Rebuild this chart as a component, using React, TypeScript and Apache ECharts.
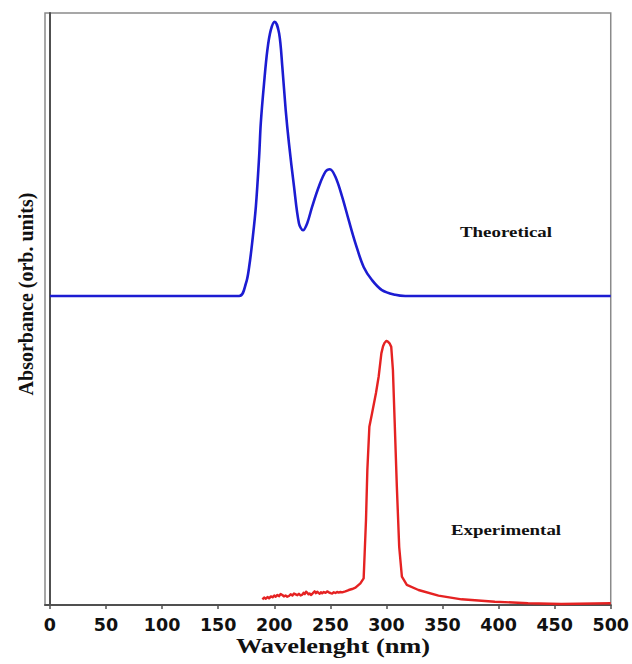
import React, { useEffect, useRef } from "react";
import * as echarts from "echarts";

// Theoretical spectrum (blue): wavelength (nm) / absorbance (arb. units, offset)
const theoWl = [0, 100, 168.7, 174.7, 177.6, 180.6, 183.6, 186.5, 188, 190.9, 193.9, 196.9, 200.4, 204.3, 207.2, 210.2, 213.1, 217.6, 222, 225.6, 229.4, 233.8, 239.8, 245.7, 249.6, 254.6, 260.5, 266.4, 272.4, 279.7, 287.1, 296, 307.9, 316.8, 400, 500];
const theoAbs = [52.2, 52.2, 52.2, 54.3, 57.1, 61.7, 67.3, 75.7, 81.4, 88.1, 93.8, 97.1, 98.5, 96.6, 90.9, 83.6, 78.0, 70.7, 64.5, 63.3, 64.5, 67.3, 70.7, 73.2, 73.6, 72.3, 69.0, 65.0, 61.1, 57.1, 54.9, 53.2, 52.4, 52.2, 52.2, 52.2];

// Experimental spectrum (red)
const expWl = [189.4, 191.0, 192.5, 194.0, 195.4, 197.0, 198.5, 200.0, 201.3, 202.8, 204.2, 205.7, 207.2, 208.6, 210.1, 211.6, 213.1, 214.6, 216.2, 217.6, 219.1, 220.6, 222.0, 223.5, 225, 226.1, 227.2, 228.3, 229.4, 230.5, 231.6, 232.7, 233.8, 234.9, 236.0, 237.2, 238.3, 239.4, 240.5, 241.6, 242.7, 244.2, 245.7, 247.2, 248.7, 250.2, 251.6, 253.1, 254.6, 256.0, 257.5, 259.0, 260.5, 263.4, 266.4, 269.4, 272.4, 276.8, 279.7, 280.6, 281.8, 283, 284.8, 287.2, 290.7, 293.1, 295.5, 297.0, 298.4, 300.0, 301.3, 302.8, 304.3, 305.8, 307.3, 309.3, 311.4, 313.8, 318.2, 328.6, 346.4, 367, 396.7, 426.3, 455.9, 500];
const expAbs = [0.96, 1.25, 1.05, 1.35, 1.13, 1.45, 1.3, 1.6, 1.4, 1.7, 1.5, 1.85, 1.69, 1.45, 1.6, 1.4, 1.52, 1.8, 1.6, 1.95, 1.8, 1.65, 1.9, 1.6, 1.74, 2.05, 1.85, 2.25, 2.08, 1.8, 1.95, 1.7, 1.86, 2.1, 2.3, 2.0, 2.25, 2.05, 1.9, 2.15, 1.97, 2.2, 2.05, 2.3, 2.14, 2.0, 1.95, 2.15, 2.03, 2.2, 2.1, 2.2, 2.14, 2.3, 2.53, 2.7, 2.92, 3.66, 4.5, 8.7, 14.4, 22.8, 30.1, 32.4, 35.8, 38.6, 42.5, 43.7, 44.3, 44.6, 44.5, 44.2, 43.6, 39.7, 31.3, 20, 9.8, 4.8, 3.4, 2.53, 1.58, 0.96, 0.56, 0.29, 0.17, 0.29];

const xTicks = [0, 50, 100, 150, 200, 250, 300, 350, 400, 450, 500];

const xTitle = "Wavelenght (nm)";
const yTitle = "Absorbance (orb. units)";
const theoLabel = "Theoretical";
const expLabel = "Experimental";

export default function App() {
  const ref = useRef<HTMLDivElement>(null);

  useEffect(() => {
    if (!ref.current) return;
    const chart = echarts.init(ref.current, null, { renderer: "svg" });
    const serif = "'Liberation Serif', 'Times New Roman', serif";
    chart.setOption({
      animation: false,
      backgroundColor: "#ffffff",
      grid: {
        left: 45,
        right: 18.5,
        top: 13,
        bottom: 59,
        show: true,
        borderColor: "#8a8a8a",
        borderWidth: 1.5,
        backgroundColor: "transparent",
      },
      xAxis: {
        type: "value",
        min: -4.4,
        max: 500,
        splitLine: { show: false },
        axisLine: { show: true, lineStyle: { color: "#505050", width: 2 } },
        axisTick: {
          show: true,
          length: 4,
          customValues: xTicks,
          lineStyle: { color: "#505050", width: 1.5 },
        },
        axisLabel: {
          customValues: xTicks,
          margin: 11,
          color: "#111",
          fontFamily: "'DejaVu Sans', sans-serif",
          fontWeight: "bold",
          fontSize: 17.5,
        },
      },
      yAxis: {
        type: "value",
        min: 0,
        max: 100,
        splitLine: { show: false },
        axisLine: { show: true, lineStyle: { color: "#505050", width: 2 } },
        axisTick: { show: false },
        axisLabel: { show: false },
      },
      series: [
        {
          type: "line",
          name: theoLabel,
          data: theoWl.map((w, i) => [w, theoAbs[i]]),
          showSymbol: false,
          smooth: 0.35,
          lineStyle: { color: "#1c1cd2", width: 2.6 },
        },
        {
          type: "line",
          name: expLabel,
          data: expWl.map((w, i) => [w, expAbs[i]]),
          showSymbol: false,
          smooth: false,
          lineStyle: { color: "#e52222", width: 2.4, join: "round" },
        },
      ],
      graphic: [
        {
          type: "text",
          x: 506,
          y: 232,
          scaleX: 1.35,
          style: {
            text: theoLabel,
            fontFamily: serif,
            fontWeight: "bold",
            fontSize: 14,
            fill: "#111",
            textAlign: "center",
            textVerticalAlign: "middle",
          },
        },
        {
          type: "text",
          x: 506,
          y: 530,
          scaleX: 1.35,
          style: {
            text: expLabel,
            fontFamily: serif,
            fontWeight: "bold",
            fontSize: 14,
            fill: "#111",
            textAlign: "center",
            textVerticalAlign: "middle",
          },
        },
        {
          type: "text",
          x: 333,
          y: 645,
          scaleX: 1.2,
          style: {
            text: xTitle,
            fontFamily: serif,
            fontWeight: "bold",
            fontSize: 22,
            fill: "#111",
            textAlign: "center",
            textVerticalAlign: "middle",
          },
        },
        {
          type: "text",
          x: 26,
          y: 294,
          rotation: Math.PI / 2,
          style: {
            text: yTitle,
            fontFamily: serif,
            fontWeight: "bold",
            fontSize: 20,
            fill: "#111",
            textAlign: "center",
            textVerticalAlign: "middle",
          },
        },
      ],
    });
    return () => chart.dispose();
  }, []);

  return (
    <div
      ref={ref}
      style={{ position: "fixed", left: 0, top: 0, width: 632, height: 664 }}
    />
  );
}
